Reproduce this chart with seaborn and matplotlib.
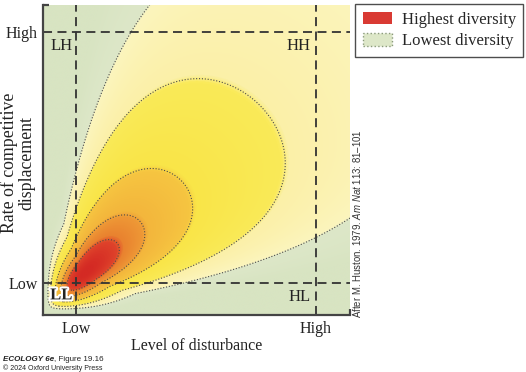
import numpy as np
import matplotlib
matplotlib.use("Agg")
import matplotlib.pyplot as plt
import seaborn as sns
from matplotlib.colors import LinearSegmentedColormap
from matplotlib.patches import Patch
import matplotlib.patheffects as pe

# ---------------- data ----------------
axis_levels = ["Low", "High"]
disturbance_ticks = [0.107, 0.889]
displacement_ticks = [0.103, 0.913]
corner_labels = ["LL", "LH", "HL", "HH"]
legend_labels = ["Highest diversity", "Lowest diversity"]

# Diversity response surface (sketch after Huston 1979)
surface_origin = [0.008, 0.012]          # where all isolines converge
log_optimum = -2.045                      # log geometric-mean rate of peak diversity
spread_along, spread_across, fan_out = 1.1, 0.42, 0.5
skew = -0.02
isoline_levels = [0.26, 0.58, 1.2, 2.28, 3.6]   # distance from optimum, red ... green
band_colors = ["#d42a24", "#df432b", "#e9822f", "#ee9836", "#f3b63c", "#f6c541",
               "#f9e548", "#faea58", "#fbf0a8", "#fcf5bd", "#dde7c8", "#d8e4c2"]

# ---------------- style ----------------
sns.set_theme(style="white")
plt.rcParams["font.family"] = ["Liberation Serif", "DejaVu Serif"]
plt.rcParams["mathtext.fontset"] = "custom"
plt.rcParams["mathtext.rm"] = "Liberation Sans"
plt.rcParams["mathtext.it"] = "Liberation Sans:italic"
plt.rcParams["mathtext.bf"] = "Liberation Sans:bold"

fig = plt.figure(figsize=(5.26, 3.72), dpi=100)
ax = fig.add_axes([43 / 526, 1 - 315 / 372, 307 / 526, 310 / 372])

xs = np.linspace(0, 1, 700)
ys = np.linspace(0, 1, 700)
X, Y = np.meshgrid(xs, ys)
xp = np.clip(X - surface_origin[0], 1e-4, None)
yp = np.clip(Y - surface_origin[1], 1e-4, None)
u, v = np.log(xp), np.log(yp)
w, z = (u + v) / 2, (v - u) / 2
across = spread_across * np.exp(-fan_out * np.minimum(w - log_optimum, 0))
Q = ((w - log_optimum) / spread_along) ** 2 + ((z - skew) / across) ** 2

qmax = 5.5
d = 0.04
lv = isoline_levels
pos = [0, lv[0] - d, lv[0] + d, lv[1] - d, lv[1] + d, lv[2] - d, lv[2] + d,
       lv[3] - d, lv[3] + d, lv[4] - d, lv[4] + d, qmax]
cmap = LinearSegmentedColormap.from_list(
    "div", list(zip([p / qmax for p in pos], band_colors)))

ax.imshow(Q, origin="lower", extent=(0, 1, 0, 1), cmap=cmap, vmin=0, vmax=qmax,
          aspect="auto", interpolation="bilinear")
ax.contour(X, Y, Q, levels=isoline_levels, colors="#4a4a4a",
           linestyles=[(0, (1, 1.6))], linewidths=0.8)

for xv in disturbance_ticks:
    ax.axvline(xv, color="#333333", lw=1.3, ls=(0, (5, 3)))
for yv in displacement_ticks:
    ax.axhline(yv, color="#333333", lw=1.3, ls=(0, (5, 3)))

ax.set_xlim(0, 1)
ax.set_ylim(0, 1)
ax.set_xticks(disturbance_ticks, axis_levels)
ax.set_yticks(displacement_ticks, axis_levels)
ax.tick_params(length=0, labelsize=11.5, colors="#222222", pad=4)
for s in ["top", "right"]:
    ax.spines[s].set_visible(False)
for s in ["left", "bottom"]:
    ax.spines[s].set_color("#444444")
    ax.spines[s].set_linewidth(1.6)
ax.plot([0, 0.02], [1, 1], transform=ax.transAxes, color="#444444", lw=1.6,
        clip_on=False, solid_capstyle="butt")
ax.plot([1, 1], [0, 0.02], transform=ax.transAxes, color="#444444", lw=1.6,
        clip_on=False, solid_capstyle="butt")

ax.set_xlabel("Level of disturbance", fontsize=11.5, color="#222222", labelpad=1)
ax.set_ylabel("Rate of competitive\ndisplacement", fontsize=12.8, color="#222222",
              linespacing=1.0, va="center", ha="center")
ax.yaxis.set_label_coords((18 - 43) / 307, (315 - 163) / 310)

# corner labels
lab_kw = dict(fontsize=12, color="#222222")
ax.text(disturbance_ticks[0] - 0.012, displacement_ticks[1] - 0.02, corner_labels[1],
        ha="right", va="top", **lab_kw)
ax.text(disturbance_ticks[1] - 0.018, displacement_ticks[1] - 0.02, corner_labels[3],
        ha="right", va="top", **lab_kw)
ax.text(disturbance_ticks[1] - 0.018, displacement_ticks[0] - 0.018, corner_labels[2],
        ha="right", va="top", **lab_kw)
ax.text(disturbance_ticks[0] - 0.012, displacement_ticks[0] - 0.014, corner_labels[0],
        ha="right", va="top", fontsize=12, color="#222222", fontweight="bold",
        path_effects=[pe.withStroke(linewidth=3, foreground="white")])

# legend
handles = [Patch(facecolor="#d93a33", edgecolor="none"),
           Patch(facecolor="#dde7c8", edgecolor="#8a9a7a", linestyle=":")]
leg = fig.legend(handles, legend_labels, loc="upper left",
                 bbox_to_anchor=(355 / 526, 1 - 4 / 372), frameon=True,
                 fancybox=False, edgecolor="#222222", fontsize=12,
                 handlelength=1.75, handleheight=0.75, borderpad=0.45,
                 labelspacing=0.35, handletextpad=0.6, borderaxespad=0)
leg.get_frame().set_linewidth(1.0)

# source & credit
fig.text(357 / 526, 1 - 318 / 372,
         r"After M. Huston. 1979. $\mathit{Am\ Nat}$ 113: 81–101",
         rotation=90, ha="center", va="bottom", fontsize=6.9,
         family=["Liberation Sans", "DejaVu Sans"], color="#333333")
t1 = fig.text(3 / 526, 1 - 361 / 372, "ECOLOGY 6e",
              fontsize=5.8, fontweight="bold", fontstyle="italic", fontstretch="condensed",
              family=["Liberation Sans", "DejaVu Sans"], color="#222222")
fig.canvas.draw()
bb = t1.get_window_extent(fig.canvas.get_renderer())
fig.text(bb.x1 / fig.bbox.width, 1 - 361 / 372, ", Figure 19.16",
         fontsize=5.8, fontstretch="condensed",
         family=["Liberation Sans", "DejaVu Sans"], color="#222222")
fig.text(3 / 526, 1 - 370 / 372, "© 2024 Oxford University Press",
         fontsize=5.0, fontstretch="condensed",
         family=["Liberation Sans", "DejaVu Sans"], color="#222222")

fig.savefig("out.png", dpi=100)
